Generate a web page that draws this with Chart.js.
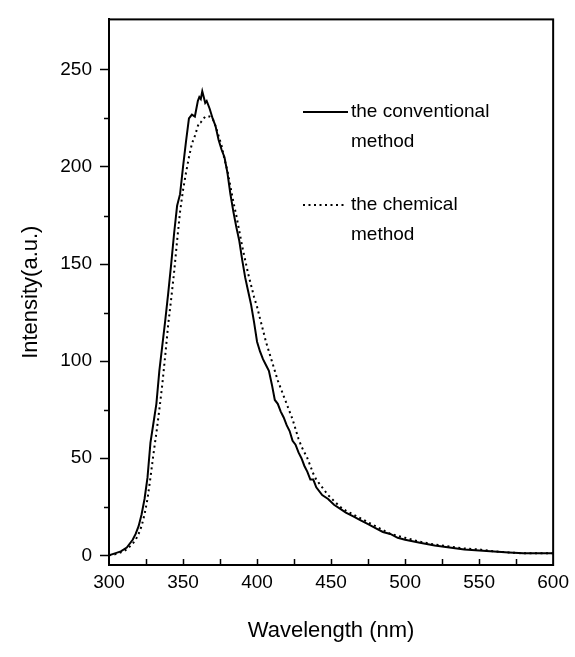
<!DOCTYPE html>
<html>
<head>
<meta charset="utf-8">
<script src="https://cdn.jsdelivr.net/npm/chart.js@4/dist/chart.umd.min.js"></script>
<style>
  html, body { margin: 0; padding: 0; background: #fff; }
  #wrap { width: 575px; height: 657px; position: relative; }
</style>
</head>
<body>
<div id="wrap"><canvas id="plChart" width="575" height="657"></canvas></div>
<script>
// wavelength (nm)
const wavelengths = [300,304,308,312,316,318,320,322,324,326,328,330,332,334,336,338,340,342,344,346,348,350,352,354,356,358,360,361,362,363,364,365,366,368,370,372,374,376,378,380,382,384,386,388,390,392,394,396,398,400,402,404,406,408,410,412,414,416,418,420,422,424,426,428,430,432,434,436,438,440,444,448,452,456,460,465,470,475,480,485,490,495,500,510,520,530,540,550,560,570,580,590,600];

// intensity, the conventional method (solid)
const conventional = [0,1,2,4,8,11,15,21,29,40,58,68,78,95,108,121,135,150,166,180,186,200,213,225,227,226,234,236,235,239,236,233,234,230,225,221,214,209,205,197,186,177,169,162,152,143,136,129,120,110,105,101,98,95,88,80,78,74,71,67,64,59,57,53,50,46,43,39,39,35,31,29,26,24,22,20,18,16,14,12,11,9,8,6.5,5,4,3,2.5,2,1.5,1,1,1];

// intensity, the chemical method (dotted)
const chemical = [0,0.5,1.5,3,6,8,11,15,21,29,40,52,63,75,88,103,119,132,146,162,177,188,197,205,212,216,221,223,223,224,225,226,226,226,225,221,216,211,204,198,190,182,175,167,159,152,145,139,133,128,122,116,110,105,100,95,90,86,82,78,74,70,65,60,56,53,50,46,42,39,35,31,28,25,23,21,19,17,15,13,11,10,9,7,5.5,4.5,3.5,3,2,1.5,1,1,1];

const yTicks = [0, 50, 100, 150, 200, 250];
const yMinorTicks = [25, 75, 125, 175, 225];
const xMinorTicks = [325, 350, 375, 400, 425, 450, 475, 500, 525, 550, 575];

const fontFamily = '"Liberation Sans", Arial, Helvetica, sans-serif';

// frame, inward x ticks, minor y ticks and the legend
const decorPlugin = {
    id: 'decor',
    afterDraw(chart) {
        const ctx = chart.ctx;
        const area = chart.chartArea;
        const xs = chart.scales.x;
        const ys = chart.scales.y;

        ctx.save();
        ctx.strokeStyle = '#000';
        ctx.lineWidth = 2;
        ctx.strokeRect(area.left, area.top, area.right - area.left, area.bottom - area.top);

        ctx.lineWidth = 1.5;
        ctx.beginPath();
        xMinorTicks.forEach(v => {
            const px = Math.round(xs.getPixelForValue(v)) + 0.5;
            ctx.moveTo(px, area.bottom);
            ctx.lineTo(px, area.bottom - 6);
        });
        yMinorTicks.forEach(v => {
            const py = Math.round(ys.getPixelForValue(v)) + 0.5;
            ctx.moveTo(area.left, py);
            ctx.lineTo(area.left - 5, py);
        });
        ctx.stroke();

        // legend
        ctx.lineWidth = 2;
        ctx.beginPath();
        ctx.moveTo(303, 112);
        ctx.lineTo(348, 112);
        ctx.stroke();

        ctx.setLineDash([2, 3.5]);
        ctx.beginPath();
        ctx.moveTo(303, 205);
        ctx.lineTo(346, 205);
        ctx.stroke();
        ctx.setLineDash([]);

        ctx.fillStyle = '#000';
        ctx.font = '19px ' + fontFamily;
        ctx.textBaseline = 'middle';
        ctx.textAlign = 'left';
        ctx.fillText('the conventional', 351, 112);
        ctx.fillText('method', 351, 142);
        ctx.fillText('the chemical', 351, 205);
        ctx.fillText('method', 351, 235);
        ctx.restore();
    }
};

const ctx = document.getElementById('plChart');

const plChart = new Chart(ctx, {
    type: 'line',
    data: {
        datasets: [{
            label: 'the conventional method',
            data: wavelengths.map((w, i) => ({ x: w, y: conventional[i] })),
            borderColor: '#000',
            borderWidth: 2,
            pointRadius: 0,
            tension: 0,
            fill: false
        }, {
            label: 'the chemical method',
            data: wavelengths.map((w, i) => ({ x: w, y: chemical[i] })),
            borderColor: '#000',
            borderWidth: 2,
            borderDash: [2, 3.5],
            pointRadius: 0,
            tension: 0,
            fill: false
        }]
    },
    options: {
        responsive: false,
        animation: false,
        layout: {
            padding: { top: 15, right: 18, left: 0, bottom: 0 }
        },
        plugins: {
            legend: { display: false },
            tooltip: { enabled: false }
        },
        scales: {
            x: {
                type: 'linear',
                min: 300,
                max: 600,
                afterFit: scale => { scale.height = 92; },
                ticks: {
                    stepSize: 50,
                    color: '#000',
                    padding: 6,
                    maxRotation: 0,
                    font: { family: fontFamily, size: 19 }
                },
                grid: { display: true, drawOnChartArea: false, drawTicks: false },
                border: { color: '#000', width: 2 },
                title: {
                    display: true,
                    text: 'Wavelength (nm)',
                    color: '#000',
                    font: { family: fontFamily, size: 22 },
                    padding: { top: 0, bottom: 13 }
                }
            },
            y: {
                type: 'linear',
                min: -5,
                max: 276,
                afterFit: scale => { scale.width = 109; },
                afterBuildTicks: scale => {
                    scale.ticks = yTicks.map(v => ({ value: v }));
                },
                ticks: {
                    color: '#000',
                    padding: 8,
                    font: { family: fontFamily, size: 19 }
                },
                grid: { display: true, drawOnChartArea: false, tickLength: 9, tickColor: '#000', tickWidth: 1.5 },
                border: { color: '#000', width: 2 },
                title: {
                    display: true,
                    text: 'Intensity(a.u.)',
                    color: '#000',
                    font: { family: fontFamily, size: 22 },
                    padding: { top: 18, bottom: 0 }
                }
            }
        }
    },
    plugins: [decorPlugin]
});
</script>
</body>
</html>
